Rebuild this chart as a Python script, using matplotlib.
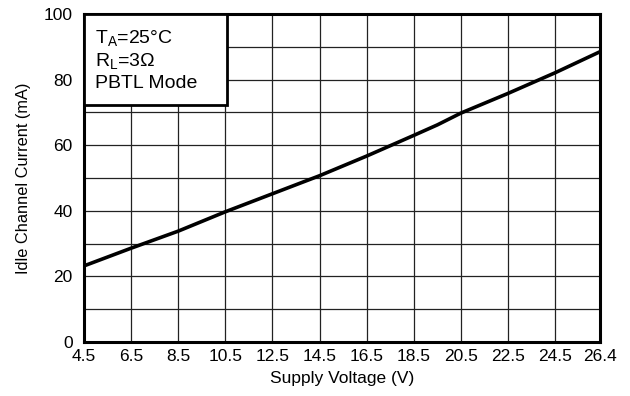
import numpy as np
import matplotlib
matplotlib.use("Agg")
import matplotlib.pyplot as plt
from matplotlib.patches import Rectangle

plt.rcParams['font.family'] = ['Liberation Sans', 'DejaVu Sans']

# supply voltage (V) and idle channel current (mA)
voltage = [4.5, 6.5, 8.5, 10.5, 12.5, 14.5, 16.5, 18.5, 19.5, 20.5, 22.5, 24.5, 26.4]
current = [23.2, 28.6, 33.8, 39.7, 45.2, 50.7, 56.7, 63.0, 66.2, 69.8, 75.8, 82.1, 88.5]

xticks = [4.5, 6.5, 8.5, 10.5, 12.5, 14.5, 16.5, 18.5, 20.5, 22.5, 24.5, 26.4]
xtick_labels = ['4.5', '6.5', '8.5', '10.5', '12.5', '14.5', '16.5', '18.5',
                '20.5', '22.5', '24.5', '26.4']
yticks = [0, 20, 40, 60, 80, 100]
ygrid = np.arange(0, 101, 10)

fig = plt.figure(figsize=(6.3, 3.96), dpi=100)
ax = fig.add_axes([0.1333, 0.1364, 0.8190, 0.8282])

ax.set_xlim(4.5, 26.4)
ax.set_ylim(0, 100)

# grid
for x in xticks[1:-1]:
    ax.axvline(x, color='#222222', lw=0.9, zorder=1)
for y in ygrid[1:-1]:
    ax.axhline(y, color='#222222', lw=0.9, zorder=1)

ax.plot(voltage, current, color='black', lw=2.6, zorder=3, solid_capstyle='butt')

ax.set_xticks(xticks)
ax.set_xticklabels(xtick_labels)
ax.set_yticks(yticks)
ax.tick_params(length=0, labelsize=12.5)
ax.tick_params(axis='x', pad=5)
ax.tick_params(axis='y', pad=8)

for s in ax.spines.values():
    s.set_linewidth(2.2)

ax.set_xlabel('Supply Voltage (V)', fontsize=12.5, labelpad=5)
ax.set_ylabel('Idle Channel Current (mA)', fontsize=11.8, labelpad=9)

# condition box
box = Rectangle((4.5, 72.3), 10.55 - 4.5, 100 - 72.3, facecolor='white',
                edgecolor='black', lw=2.0, zorder=4)
ax.add_patch(box)
ax.text(4.95, 95.6, 'T$_\\mathregular{A}$=25°C\nR$_\\mathregular{L}$=3Ω\nPBTL Mode',
        fontsize=14, va='top', ha='left', zorder=5, linespacing=1.22)

fig.savefig('out.png', dpi=100)
